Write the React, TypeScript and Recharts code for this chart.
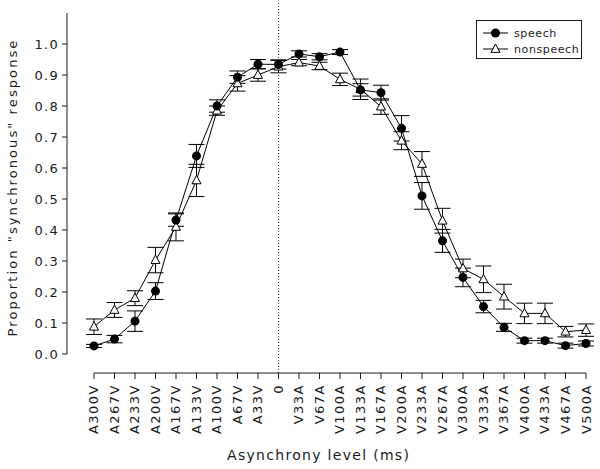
import { LineChart, Line, XAxis, YAxis, ErrorBar, ReferenceLine, Legend } from 'recharts';

const categories = [
  'A300V', 'A267V', 'A233V', 'A200V', 'A167V', 'A133V', 'A100V', 'A67V', 'A33V', '0',
  'V33A', 'V67A', 'V100A', 'V133A', 'V167A', 'V200A', 'V233A', 'V267A', 'V300A', 'V333A',
  'V367A', 'V400A', 'V433A', 'V467A', 'V500A',
];

const speech = [
  0.026, 0.048, 0.106, 0.203, 0.432, 0.639, 0.8, 0.893, 0.935, 0.934,
  0.968, 0.959, 0.974, 0.852, 0.843, 0.728, 0.51, 0.365, 0.247, 0.153,
  0.086, 0.043, 0.043, 0.027, 0.034,
];
const speechErr = [
  0.005, 0.012, 0.033, 0.027, 0.02, 0.037, 0.02, 0.02, 0.015, 0.015,
  0.01, 0.01, 0.008, 0.02, 0.024, 0.041, 0.043, 0.037, 0.03, 0.02,
  0.013, 0.008, 0.008, 0.008, 0.008,
];

const nonspeech = [
  0.088, 0.142, 0.18, 0.303, 0.41, 0.56, 0.785, 0.873, 0.9, 0.927,
  0.94, 0.929, 0.886, 0.854, 0.798, 0.688, 0.613, 0.43, 0.276, 0.241,
  0.185, 0.131, 0.131, 0.072, 0.077,
];
const nonspeechErr = [
  0.025, 0.024, 0.024, 0.041, 0.045, 0.052, 0.015, 0.025, 0.02, 0.02,
  0.01, 0.012, 0.02, 0.033, 0.025, 0.029, 0.04, 0.04, 0.03, 0.043,
  0.04, 0.033, 0.033, 0.017, 0.02,
];

const yTicks = [0, 0.1, 0.2, 0.3, 0.4, 0.5, 0.6, 0.7, 0.8, 0.9, 1.0];

const X_MIN = -1.317;
const X_MAX = 24.5;
const Y_MIN = -0.0613;
const Y_MAX = 1.1355;
const FONT = '"DejaVu Sans", sans-serif';
const INK = '#1a1a1a';

const rows = categories.map((c, i) => ({
  idx: i,
  label: c,
  speech: speech[i],
  speechErr: speechErr[i],
  nonspeech: nonspeech[i],
  nonspeechErr: nonspeechErr[i],
}));

function RotTick({ x, y, payload }: any) {
  return (
    <text
      x={x}
      y={y}
      dy={4.5}
      transform={`rotate(-90 ${x} ${y})`}
      textAnchor="end"
      fontFamily={FONT}
      fontSize={13}
      style={{ letterSpacing: '1.5px' }}
      fill={INK}
    >
      {categories[payload.value]}
    </text>
  );
}

function CircleDot(p: any) {
  if (p.cx == null || p.cy == null) return <g key={p.index} />;
  return <circle key={p.index} cx={p.cx} cy={p.cy} r={4.5} fill="#000" />;
}

function TriangleDot(p: any) {
  if (p.cx == null || p.cy == null) return <g key={p.index} />;
  const s = 4.5;
  const pts = `${p.cx},${p.cy - s - 0.5} ${p.cx - s},${p.cy + s * 0.75} ${p.cx + s},${p.cy + s * 0.75}`;
  return <polygon key={p.index} points={pts} fill="#fff" stroke="#000" strokeWidth={1} />;
}

function LegendBox() {
  return (
    <svg width={104} height={37} style={{ display: 'block' }}>
      <line x1={6} y1={12} x2={31} y2={12} stroke="#000" />
      <circle cx={18.5} cy={12} r={4.5} fill="#000" />
      <text x={37} y={16} fontFamily={FONT} fontSize={11} letterSpacing={0.6} fill={INK}>speech</text>
      <line x1={6} y1={28} x2={31} y2={28} stroke="#000" />
      <polygon points="18.5,23 14,31.4 23,31.4" fill="#fff" stroke="#000" />
      <text x={37} y={32} fontFamily={FONT} fontSize={11} letterSpacing={0.6} fill={INK}>nonspeech</text>
    </svg>
  );
}

export default function App() {
  return (
    <div style={{ position: 'absolute', left: 0, top: 0, background: '#fff' }}>
      <LineChart width={600} height={469} data={rows} margin={{ top: 2, right: 3.75, bottom: 0, left: 0 }}>
        <XAxis
          type="number"
          dataKey="idx"
          domain={[X_MIN, X_MAX]}
          ticks={rows.map(r => r.idx)}
          interval={0}
          axisLine={false}
          tickSize={6}
          tickMargin={5}
          tickLine={{ stroke: INK }}
          height={96}
          tick={<RotTick />}
          label={{
            value: 'Asynchrony level (ms)',
            position: 'insideBottom',
            offset: 9,
            dx: -13,
            style: { fontFamily: FONT, fontSize: 14, letterSpacing: 1.3, fill: INK },
          }}
        />
        <YAxis
          type="number"
          domain={[Y_MIN, Y_MAX]}
          ticks={yTicks}
          width={67}
          axisLine={false}
          tickSize={5}
          tickMargin={3}
          tickLine={{ stroke: INK }}
          tickFormatter={(v: number) => v.toFixed(1)}
          tick={{ fontFamily: FONT, fontSize: 13, letterSpacing: 1.3, fill: INK }}
          label={{
            value: 'Proportion "synchronous" response',
            angle: -90,
            position: 'insideLeft',
            offset: 12,
            style: { textAnchor: 'middle', fontFamily: FONT, fontSize: 13, letterSpacing: 2.1, fill: INK },
          }}
        />
        {/* axes drawn as segments so they stop where the original does */}
        <ReferenceLine segment={[{ x: X_MIN, y: 0 }, { x: X_MIN, y: 1.1 }]} stroke={INK} ifOverflow="visible" />
        <ReferenceLine segment={[{ x: 0, y: Y_MIN }, { x: 24, y: Y_MIN }]} stroke={INK} ifOverflow="visible" />
        <ReferenceLine x={9} stroke="#333" strokeDasharray="1 2" />
        <Legend
          layout="vertical"
          align="center"
          verticalAlign="middle"
          content={() => <LegendBox />}
          wrapperStyle={{
            position: 'absolute',
            left: 476,
            top: 20,
            width: 104,
            height: 37,
            border: `1px solid ${INK}`,
            background: '#fff',
          }}
        />
        <Line
          type="linear"
          dataKey="nonspeech"
          name="nonspeech"
          stroke="#000"
          strokeWidth={1}
          dot={TriangleDot}
          activeDot={false}
          isAnimationActive={false}
        >
          <ErrorBar dataKey="nonspeechErr" direction="y" width={8} stroke="#000" strokeWidth={1} isAnimationActive={false} />
        </Line>
        <Line
          type="linear"
          dataKey="speech"
          name="speech"
          stroke="#000"
          strokeWidth={1}
          dot={CircleDot}
          activeDot={false}
          isAnimationActive={false}
        >
          <ErrorBar dataKey="speechErr" direction="y" width={8} stroke="#000" strokeWidth={1} isAnimationActive={false} />
        </Line>
      </LineChart>
    </div>
  );
}
